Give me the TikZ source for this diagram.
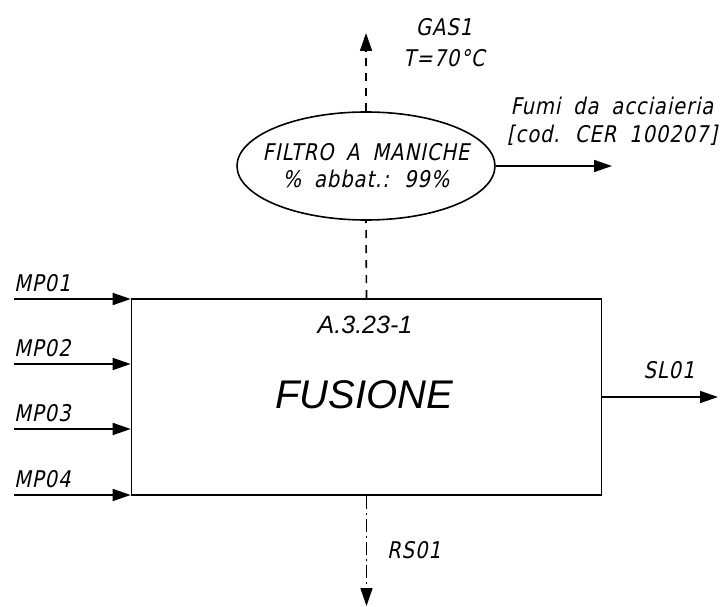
\documentclass[tikz,border=0pt]{standalone}
\usepackage{fontspec}
\setmainfont{Liberation Sans}
\newfontfamily\cadfont[FakeSlant=0.2,FakeStretch=0.85,WordSpace=1.8,LetterSpace=4]{DejaVu Sans}
\usetikzlibrary{arrows.meta,shapes.geometric,positioning}

\tikzset{
  flow/.style={line width=1.6pt, -{Triangle[length=18pt,width=12pt]}},
  cad/.style={font=\cadfont\fontsize{23}{27}\selectfont, inner sep=0pt},
  gasline/.style={dash pattern=on 8pt off 7pt},
  rsline/.style={dash pattern=on 13pt off 4pt on 2pt off 4pt},
}

\begin{document}
\begin{tikzpicture}[x=1pt, y=-1pt]
  \useasboundingbox (0,0) rectangle (724,607);
  % blocco di processo
  \node[draw, line width=1.6pt, inner sep=0pt, minimum width=470pt, minimum height=196pt] (fusione) at (366.5,397) {};
  \node[font=\itshape\fontsize{25}{30}\selectfont] (codice) at (365,325) {A.3.23-1};
  \node[font=\itshape\fontsize{40}{48}\selectfont] (fusionetxt) at (364,395) {FUSIONE};
  % filtro
  \node[draw, ellipse, line width=1.6pt, inner sep=0pt, minimum width=258pt, minimum height=108pt] (filtro) at (366,166) {};
  \node[cad, align=center] (filtrotxt) at (filtro.center) {FILTRO A MANICHE\\\% abbat.: 99\%};
  % emissioni
  \coordinate (gasend) at (366,33);
  \draw[line width=1.6pt, gasline] (fusione.north) -- (filtro.south);
  \draw[flow, gasline] (filtro.north) -- (gasend);
  \node[cad, align=center, font=\cadfont\fontsize{23}{31}\selectfont] (gas) at (444,43) {GAS1\\T=70°C};
  \coordinate (fumiend) at (612,166);
  \draw[flow] (filtro.east) -- (fumiend);
  \node[cad, align=center, font=\cadfont\fontsize{23}{28}\selectfont] (fumi) at (612,121) {Fumi da acciaieria\\{[cod. CER 100207]}};
  % ingressi
  \foreach \i/\y in {1/299,2/364,3/429,4/495}{
    \coordinate (mp\i) at (14,\y);
    \draw[flow] (mp\i) -- (mp\i -| fusione.west);
    \node[cad, anchor=base west, yshift=8pt] (lblmp\i) at (mp\i) {MP0\i};
  }
  % uscite
  \coordinate (slend) at (718,397);
  \draw[flow] (fusione.east) -- (slend);
  \node[cad, anchor=base] (sl) at (669,378) {SL01};
  \coordinate (rsend) at (366.5,606);
  \draw[flow, rsline] (fusione.south) -- (rsend);
  \node[cad] (rs) at (414,550) {RS01};
\end{tikzpicture}
\end{document}
